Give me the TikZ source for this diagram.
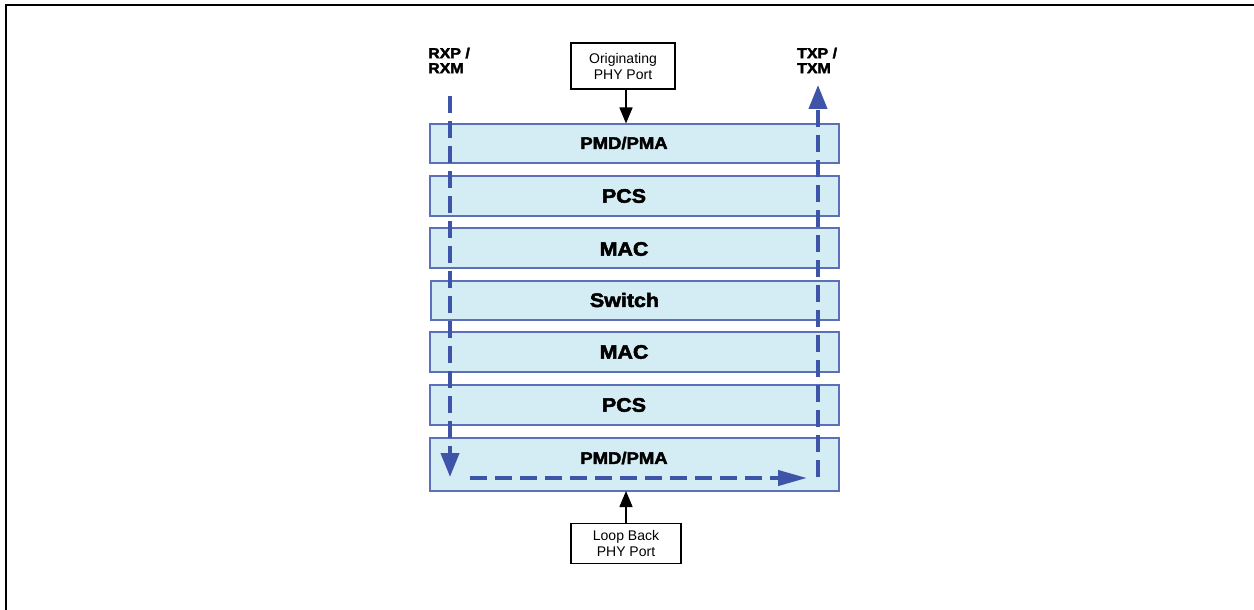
\documentclass[tikz,border=0pt]{standalone}
\usepackage{fontspec}
\setmainfont{Liberation Sans}
\newfontfamily\heavyfont{Liberation Sans}[BoldFeatures={FakeBold=2.6,FakeStretch=1.1}]
\usetikzlibrary{arrows.meta}
\definecolor{layerfill}{RGB}{212,236,243}
\definecolor{layerdraw}{RGB}{92,112,186}
\definecolor{pathblue}{RGB}{62,84,168}
\tikzset{
  layer/.style={draw=layerdraw, fill=layerfill, line width=2pt, minimum width=409pt, inner sep=0pt},
  lbl/.style={font=\heavyfont\bfseries\fontsize{19.5}{21}\selectfont, inner sep=0pt},
  lblsmall/.style={font=\heavyfont\bfseries\fontsize{16.8}{18}\selectfont, inner sep=0pt},
  portbox/.style={draw=black, line width=1.6pt, fill=white, align=center, font=\fontsize{14}{16}\selectfont, inner sep=0pt},
  sidelbl/.style={font=\heavyfont\bfseries\fontsize{14.5}{15}\selectfont, align=left, anchor=north west, inner sep=0pt},
  blackarrow/.style={line width=1.5pt, -{Triangle[length=16pt,width=13pt]}},
  bluepath/.style={pathblue, line width=4pt, dash pattern=on 17pt off 8pt},
  bluetip/.style={-{Triangle[length=24pt,width=18pt]}},
}
\begin{document}
\begin{tikzpicture}[x=1pt,y=-1pt]
\useasboundingbox (0,0) rectangle (1254,610);
% frame (top and left edges)
\draw[line width=2pt] (6,610) -- (6,5) -- (1254,5);

% layers
\node[layer, minimum height=39pt] (pmdA) at (634.5,143) {};
\node[layer, minimum height=40pt] (pcsA) at (634,196) {};
\node[layer, minimum height=40pt] (macA) at (634.5,248) {};
\node[layer, minimum height=39pt, minimum width=408pt] (sw) at (635,300.5) {};
\node[layer, minimum height=40pt] (macB) at (634.5,352) {};
\node[layer, minimum height=40pt] (pcsB) at (634.5,405) {};
\node[layer, minimum height=53pt] (pmdB) at (634.5,464.5) {};

\node[lblsmall] (tpmdA) at (624,143) {PMD/PMA};
\node[lbl] (tpcsA) at (624,196) {PCS};
\node[lbl] (tmacA) at (624,249) {MAC};
\node[lbl] (tsw)   at (624.5,300) {Switch};
\node[lbl] (tmacB) at (624,352) {MAC};
\node[lbl] (tpcsB) at (624,405) {PCS};
\node[lblsmall] (tpmdB) at (624,458) {PMD/PMA};

% port boxes
\node[portbox, minimum width=104pt, minimum height=46pt] (orig) at (623,66) {Originating\\PHY Port};
\node[portbox, minimum width=110pt, minimum height=40pt] (loop) at (626,543.5) {Loop Back\\PHY Port};

\coordinate (origin) at (626,89);
\coordinate (origtip) at (626,123.5);
\coordinate (loopout) at (626,523);
\coordinate (looptip) at (626,491);
\draw[blackarrow] (origin) -- (origtip);
\draw[blackarrow] (loopout) -- (looptip);

% side labels
\node[sidelbl] (rx) at (428,47.5) {RXP /\\RXM};
\node[sidelbl] (tx) at (797,47.5) {TXP /\\TXM};

% blue dashed loop path
\coordinate (rxs) at (450,96);
\coordinate (rxe) at (450,477);
\coordinate (hs) at (470,478);
\coordinate (he) at (807,478);
\coordinate (txs) at (818,477);
\coordinate (txe) at (818,85);
\draw[bluepath, bluetip] (rxs) -- (rxe);
\draw[bluepath, -{Triangle[length=29pt,width=15pt]}] (hs) -- (he);
\draw[bluepath, bluetip] (txs) -- (txe);
\end{tikzpicture}
\end{document}
